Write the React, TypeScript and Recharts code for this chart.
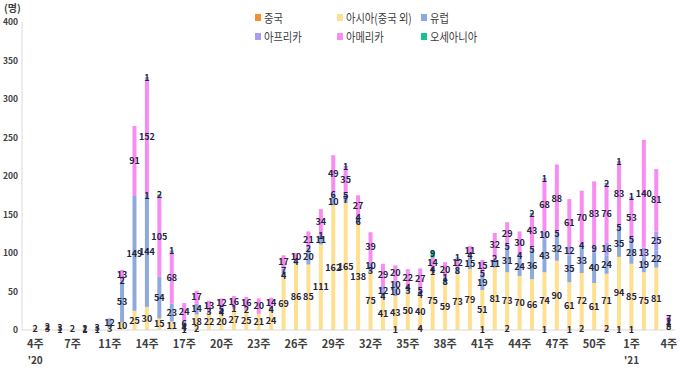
import { BarChart, Bar, XAxis, YAxis, LabelList } from 'recharts'

const weeks = [
  '4주', '5주', '6주', '7주', '8주', '9주', '11주', '12주', '13주', '14주', '15주', '16주', '17주',
  '18주', '19주', '20주', '21주', '22주', '23주', '24주', '25주', '26주', '27주', '28주', '29주',
  '30주', '31주', '32주', '33주', '34주', '35주', '36주', '37주', '38주', '39주', '40주', '41주',
  '42주', '43주', '44주', '45주', '46주', '47주', '48주', '49주', '50주', '51주', '52주', '1주',
  '2주', '3주', '4주',
]
const years = ["'20", '', '', '', '', '', '', '', '', '', '', '', '', '', '', '', '', '', '', '', '', '', '', '', '', '', '', '', '', '', '', '', '', '', '', '', '', '', '', '', '', '', '', '', '', '', '', '', "'21", '', '', '']

const china = [2, 3, 1, 0, 1, 0, 0, 0, 0, 0, 0, 0, 1, 2, 0, 0, 0, 0, 0, 0, 0, 0, 0, 0, 0, 0, 0, 0, 0, 1, 0, 4, 0, 0, 0, 0, 1, 0, 2, 0, 0, 1, 0, 1, 2, 0, 2, 1, 1, 0, 0, 0]
const asia = [0, 2, 3, 2, 2, 1, 3, 10, 25, 30, 15, 11, 4, 18, 22, 20, 27, 25, 21, 24, 69, 86, 85, 111, 162, 165, 138, 75, 41, 43, 50, 40, 75, 59, 73, 79, 51, 81, 73, 70, 66, 74, 90, 61, 72, 61, 71, 94, 85, 75, 81, 8]
const europe = [0, 0, 0, 0, 0, 3, 12, 53, 149, 144, 54, 23, 6, 14, 3, 4, 1, 2, 0, 4, 4, 4, 20, 11, 10, 7, 6, 3, 4, 10, 3, 4, 1, 8, 8, 15, 19, 11, 31, 24, 36, 43, 32, 35, 33, 40, 24, 35, 28, 19, 22, 1]
const africa = [0, 0, 0, 0, 0, 0, 0, 2, 0, 1, 0, 0, 0, 0, 0, 5, 0, 0, 0, 0, 7, 0, 2, 1, 6, 5, 4, 10, 12, 10, 4, 5, 4, 1, 0, 4, 5, 2, 5, 4, 5, 10, 5, 12, 4, 9, 16, 5, 5, 13, 25, 2]
const americas = [0, 0, 0, 0, 0, 0, 0, 13, 91, 152, 105, 68, 24, 17, 13, 12, 16, 16, 20, 14, 17, 10, 21, 34, 49, 35, 27, 39, 29, 20, 22, 27, 14, 20, 12, 11, 15, 32, 29, 30, 43, 68, 88, 61, 70, 83, 76, 83, 53, 140, 81, 7]
const oceania = [0, 0, 0, 0, 0, 0, 0, 0, 0, 1, 2, 1, 0, 0, 0, 0, 0, 0, 0, 0, 0, 0, 0, 0, 0, 1, 0, 0, 0, 0, 0, 0, 9, 0, 1, 0, 0, 0, 0, 0, 2, 1, 0, 0, 0, 0, 2, 1, 1, 0, 0, 0]

const yTicks = [0, 50, 100, 150, 200, 250, 300, 350, 400]

const series = [
  { key: 'china', name: '중국', color: '#f39130' },
  { key: 'asia', name: '아시아(중국 외)', color: '#ffe08f' },
  { key: 'europe', name: '유럽', color: '#8eaadc' },
  { key: 'africa', name: '아프리카', color: '#a99cf2' },
  { key: 'americas', name: '아메리카', color: '#f98cf2' },
  { key: 'oceania', name: '오세아니아', color: '#13c38e' },
]

const data = weeks.map((w, i) => ({
  id: i,
  week: w,
  year: years[i],
  china: china[i],
  asia: asia[i],
  europe: europe[i],
  africa: africa[i],
  americas: americas[i],
  oceania: oceania[i],
}))

const font = '"Noto Sans CJK KR", "Noto Sans", sans-serif'

function WeekTick(props: any) {
  const { x, y, payload } = props
  const d = data[payload.value]
  if (!d) return null
  return (
    <g>
      <text x={x} y={y + 10} textAnchor="middle" fontSize={11} fontWeight={700} fill="#404040" fontFamily={font}>
        {d.week}
      </text>
      {d.year && (
        <text x={x} y={y + 26} textAnchor="middle" fontSize={10} fontWeight={700} fill="#404040" fontFamily={font}>
          {d.year}
        </text>
      )}
    </g>
  )
}

const hideZero = (v: any) => (v ? v : '')

export default function App() {
  const legendCols = [255, 337, 421]
  return (
    <div style={{ position: 'relative', width: 680, height: 372, fontFamily: font }}>
      <style>{'body{margin:0}'}</style>
      <div style={{ position: 'absolute', left: 4, top: 0, fontSize: 10, fontWeight: 700, color: '#404040' }}>(명)</div>
      {series.map((s, i) => (
        <div
          key={s.key}
          style={{
            position: 'absolute',
            left: legendCols[i % 3],
            top: i < 3 ? 8 : 27,
            display: 'flex',
            alignItems: 'center',
            fontSize: 12.5,
            color: '#404040',
            whiteSpace: 'nowrap',
          }}
        >
          <span style={{ width: 6, height: 7, background: s.color, marginRight: 3, display: 'inline-block' }} />
          <span style={{ display: 'inline-block', transform: 'scaleX(0.82)', transformOrigin: 'left center' }}>{s.name}</span>
        </div>
      ))}
      <BarChart width={680} height={372} data={data} margin={{ top: 22, right: 5, left: 0, bottom: 0 }} barCategoryGap="33%">
        <XAxis
          dataKey="id"
          interval={2}
          tick={<WeekTick />}
          tickLine={false}
          axisLine={{ stroke: '#d9d9d9' }}
          height={42}
          padding={{ left: 7, right: 0 }}
        />
        <YAxis
          domain={[0, 400]}
          ticks={yTicks}
          width={22}
          tickLine={false}
          tickSize={0}
          axisLine={{ stroke: '#d9d9d9' }}
          tick={{ fontSize: 8.5, fontWeight: 700, fill: '#404040', fontFamily: font }}
          tickMargin={4}
        />
        {series.map((s) => (
          <Bar key={s.key} dataKey={s.key} name={s.name} stackId="a" fill={s.color} isAnimationActive={false}>
            <LabelList
              dataKey={s.key}
              position="center"
              formatter={hideZero}
              style={{ fontSize: 9, fontWeight: 700, fill: '#1f2440', fontFamily: font }}
            />
          </Bar>
        ))}
      </BarChart>
    </div>
  )
}
